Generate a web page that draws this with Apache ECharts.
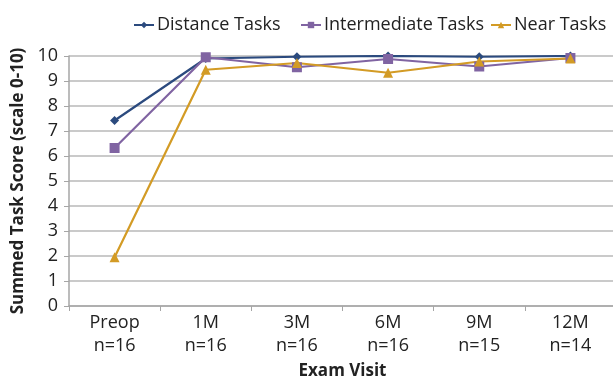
<!DOCTYPE html>
<html>
<head>
<meta charset="utf-8">
<script src="https://cdn.jsdelivr.net/npm/echarts@6/dist/echarts.min.js"></script>
<style>
  html, body { margin: 0; padding: 0; background: #fff; }
  #chart { width: 613px; height: 379px; }
</style>
</head>
<body>
<div id="chart"></div>
<script>
// Exam visits and sample sizes
const visits = ['Preop', '1M', '3M', '6M', '9M', '12M'];
const sampleSizes = [16, 16, 16, 16, 15, 14];

// Series names
const seriesNames = ['Distance Tasks', 'Intermediate Tasks', 'Near Tasks'];

// Mean summed task scores (0-10) per visit
const distanceTasks = [7.42, 9.9, 9.97, 10.0, 9.97, 10.0];
const intermediateTasks = [6.32, 9.95, 9.55, 9.88, 9.58, 9.92];
const nearTasks = [1.95, 9.45, 9.72, 9.33, 9.78, 9.9];

const yTicks = [0, 1, 2, 3, 4, 5, 6, 7, 8, 9, 10];

const font = '"Open Sans", "Noto Sans", sans-serif';
const categoryLabels = visits.map((v, i) => v + '\nn=' + sampleSizes[i]);

const chart = echarts.init(document.getElementById('chart'));

function lineSeries(name, data, color, symbol, size) {
  return {
    name: name,
    type: 'line',
    data: data,
    symbol: symbol,
    symbolSize: size,
    lineStyle: { color: color, width: 2.2 },
    itemStyle: { color: color },
    animation: false
  };
}

// One legend block per series so each entry sits at its own spot
function legendAt(name, left) {
  return {
    top: 11,
    left: left,
    itemWidth: 20,
    itemHeight: 8,
    textStyle: { fontFamily: font, fontSize: 18, color: '#222', padding: [0, 0, 0, -2] },
    data: [name]
  };
}

chart.setOption({
  animation: false,
  textStyle: { fontFamily: font },
  legend: [
    legendAt(seriesNames[0], 128),
    legendAt(seriesNames[1], 295),
    legendAt(seriesNames[2], 485)
  ],
  grid: { left: 69, right: -3, top: 56, bottom: 73, containLabel: false, outerBoundsMode: 'none' },
  xAxis: {
    type: 'category',
    data: categoryLabels,
    boundaryGap: true,
    name: 'Exam Visit',
    nameLocation: 'middle',
    nameGap: 57,
    nameTextStyle: { fontFamily: font, fontSize: 17, fontWeight: 'bold', color: '#222' },
    axisLine: { lineStyle: { color: '#a6a6a6', width: 1.5 } },
    axisTick: { show: true, length: 5, lineStyle: { color: '#a6a6a6' } },
    axisLabel: { fontFamily: font, fontSize: 18, color: '#222', lineHeight: 23, margin: 5 }
  },
  yAxis: {
    type: 'value',
    min: yTicks[0],
    max: yTicks[yTicks.length - 1],
    interval: 1,
    name: 'Summed Task Score (scale 0-10)',
    nameLocation: 'middle',
    nameGap: 32,
    nameRotate: 90,
    nameTextStyle: { fontFamily: font, fontSize: 17, fontWeight: 'bold', color: '#222' },
    axisLine: { show: true, lineStyle: { color: '#a6a6a6', width: 1.5 } },
    axisTick: { show: true, length: 5, lineStyle: { color: '#a6a6a6' } },
    axisLabel: { fontFamily: font, fontSize: 18, color: '#222', margin: 11 },
    splitLine: { lineStyle: { color: '#b8b8b8', width: 1.5 } }
  },
  series: [
    lineSeries(seriesNames[0], distanceTasks, '#2b4a7e', 'diamond', 9),
    lineSeries(seriesNames[1], intermediateTasks, '#8064a2', 'rect', 10),
    lineSeries(seriesNames[2], nearTasks, '#d39b25', 'triangle', 10)
  ]
});
</script>
</body>
</html>
